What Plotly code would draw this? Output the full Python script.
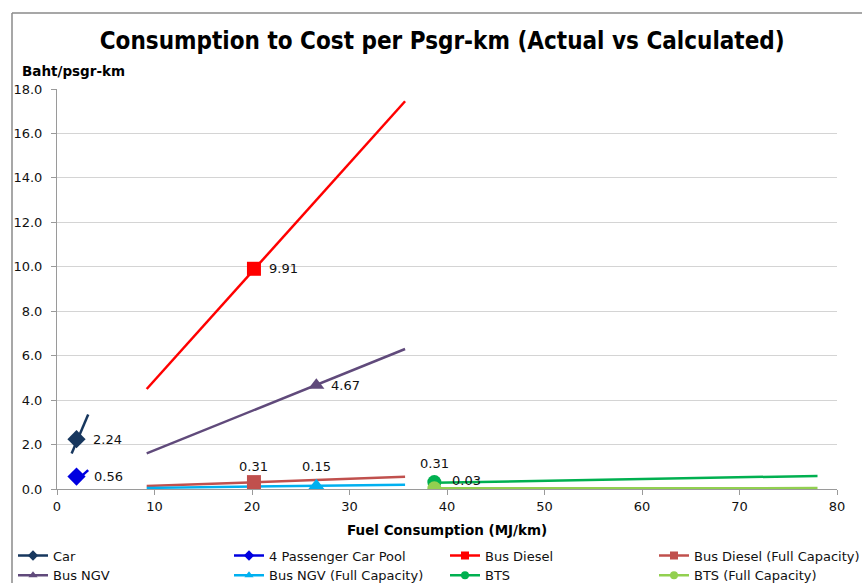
import plotly.graph_objects as go

# ---- data ----
series_names = ["Car", "4 Passenger Car Pool", "Bus Diesel", "Bus Diesel (Full Capacity)",
                "Bus NGV", "Bus NGV (Full Capacity)", "BTS", "BTS (Full Capacity)"]
# actual points (fuel consumption MJ/km, Baht/psgr-km)
actual_x = [2.0, 2.0, 20.2, 20.2, 26.6, 26.6, 38.7, 38.7]
actual_y = [2.24, 0.56, 9.91, 0.31, 4.67, 0.15, 0.31, 0.03]
actual_labels = ["2.24", "0.56", "9.91", "0.31", "4.67", "0.15", "0.31", "0.03"]
# calculated (line) start/end points
line_x0 = [1.5, 1.8, 9.2, 9.2, 9.2, 9.2, 38.7, 38.7]
line_x1 = [3.2, 3.2, 35.7, 35.7, 35.7, 35.7, 78.0, 78.0]
line_y0 = [1.6, 0.3, 4.5, 0.13, 1.6, 0.05, 0.28, 0.03]
line_y1 = [3.35, 0.85, 17.45, 0.55, 6.3, 0.19, 0.59, 0.04]

colors = ["#17375E", "#0000E0", "#FF0000", "#C0504D", "#604A7B", "#00B0F0", "#00B050", "#92D050"]
symbols = ["diamond", "diamond", "square", "square", "triangle-up", "triangle-up", "circle", "circle"]
# label placement: (xanchor, xshift, yshift)
label_place = [("left", 14, 0), ("left", 15, 0), ("left", 13, 0), ("center", 0, 16),
               ("left", 13, 0), ("center", 0, 19), ("center", 0, 19), ("left", 16, 8)]
# legend column for each series (4 columns x 2 rows)
legend_of = ["legend", "legend2", "legend3", "legend4",
             "legend", "legend2", "legend3", "legend4"]

FONT = "DejaVu Sans"
fig = go.Figure()

for i, name in enumerate(series_names):
    fig.add_trace(go.Scatter(
        x=[line_x0[i], line_x1[i]], y=[line_y0[i], line_y1[i]], mode="lines",
        line=dict(color=colors[i], width=2.5), showlegend=False, hoverinfo="skip"))
for i, name in enumerate(series_names):
    fig.add_trace(go.Scatter(
        x=[actual_x[i]], y=[actual_y[i]], mode="markers",
        marker=dict(color=colors[i], symbol=symbols[i], size=14),
        showlegend=False, name=name))
for i, name in enumerate(series_names):
    fig.add_trace(go.Scatter(
        x=[None], y=[None], mode="lines+markers", name=name,
        legend=legend_of[i],
        line=dict(color=colors[i], width=2.5),
        marker=dict(color=colors[i], symbol=symbols[i], size=8)))

annotations = []
for i in range(len(series_names)):
    xa, xs, ys = label_place[i]
    annotations.append(dict(
        x=actual_x[i], y=actual_y[i], xref="x", yref="y", text=actual_labels[i],
        showarrow=False, xanchor=xa, yanchor="middle", xshift=xs, yshift=ys,
        font=dict(family=FONT, size=13, color="#111")))

L, R, T, B = 57, 25, 89, 94
W = 862 - L - R
H = 583 - T - B
annotations += [
    dict(text="<b>Baht/psgr-km</b>", xref="paper", yref="paper",
         x=(20 - L) / W, y=(489 - 71) / H, xanchor="left", yanchor="middle",
         showarrow=False, font=dict(family=FONT, size=13.5, color="black")),
    dict(text="<b>Fuel Consumption (MJ/km)</b>", xref="paper", yref="paper",
         x=0.5, y=(489 - 530) / H, xanchor="center", yanchor="middle",
         showarrow=False, font=dict(family=FONT, size=13.5, color="black")),
]

legend_common = dict(orientation="v", yanchor="top", y=(489 - 540.5) / H, xanchor="left",
                     font=dict(family=FONT, size=13, color="#111"),
                     itemwidth=30, tracegroupgap=0, bgcolor="rgba(0,0,0,0)")
legend_text_px = [52, 268, 484, 693]
legend_x = [(px - 39 - L) / W for px in legend_text_px]

fig.update_layout(
    width=862, height=583,
    margin=dict(l=L, r=R, t=T, b=B, autoexpand=False),
    paper_bgcolor="white", plot_bgcolor="white",
    font=dict(family=FONT, size=13, color="#111"),
    title=dict(text="<b>Consumption to Cost per Psgr-km (Actual vs Calculated)</b>",
               font=dict(family="DejaVu Sans Condensed, DejaVu Sans", size=24, color="black"),
               x=0.513, xanchor="center", y=0.93, yanchor="middle"),
    xaxis=dict(range=[0, 80], dtick=10, tick0=0, showgrid=False, zeroline=False,
               showline=True, linecolor="#9a9a9a", linewidth=1,
               ticks="outside", ticklen=5, tickcolor="#9a9a9a",
               tickfont=dict(family=FONT, size=13, color="#111")),
    yaxis=dict(range=[0, 18], dtick=2, tick0=0, tickformat=".1f",
               showgrid=True, gridcolor="#d4d4d4", gridwidth=1, zeroline=False,
               showline=True, linecolor="#9a9a9a", linewidth=1,
               ticks="outside", ticklen=5, tickcolor="#9a9a9a", ticklabelstandoff=6,
               tickfont=dict(family=FONT, size=13, color="#111")),
    legend=dict(legend_common, x=legend_x[0]),
    legend2=dict(legend_common, x=legend_x[1]),
    legend3=dict(legend_common, x=legend_x[2]),
    legend4=dict(legend_common, x=legend_x[3]),
    annotations=annotations,
    shapes=[
        dict(type="line", xref="paper", yref="paper",
             x0=(12 - L) / W, x1=(12 - L) / W, y0=(489 - 583) / H, y1=(489 - 13) / H,
             line=dict(color="#8a8a8a", width=1.5)),
        dict(type="line", xref="paper", yref="paper",
             x0=(12 - L) / W, x1=(862 - L) / W, y0=(489 - 13) / H, y1=(489 - 13) / H,
             line=dict(color="#8a8a8a", width=1.5)),
    ],
)

fig.write_html("out.html")
